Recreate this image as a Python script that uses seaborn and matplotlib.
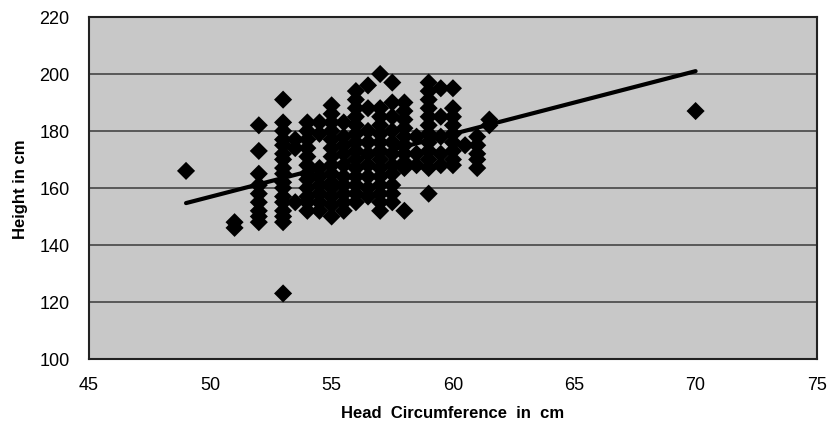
import matplotlib
matplotlib.use("Agg")
import matplotlib.pyplot as plt
import pandas as pd
import seaborn as sns

# head circumference columns (cm) and the heights measured at each one (cm)
head_cols = [49, 51, 52, 53, 53.5, 54, 54.5, 55, 55.5, 56, 56.5, 57, 57.5,
             58, 58.5, 59, 59.5, 60, 60.5, 61, 61.5, 70]
heights = [
    [166],
    [148, 146],
    [182, 173, 165, 161, 158, 155, 152, 150, 148],
    [191, 183, 180, 177, 175, 172, 170, 167, 165, 162, 160, 157, 155, 152, 150, 148, 123],
    [177, 174, 155],
    [183, 180, 177, 174, 171, 168, 165, 163, 160, 157, 155, 152],
    [183, 179, 167, 164, 161, 158, 155, 152],
    [189, 186, 183, 180, 177, 174, 171, 168, 165, 162, 160, 157, 154, 150],
    [183, 178, 175, 172, 168, 164, 161, 158, 155, 152],
    [194, 191, 188, 185, 182, 179, 176, 173, 170, 167, 164, 161, 158, 155],
    [196, 188, 180, 176, 172, 168, 164, 160, 157],
    [200, 188, 185, 182, 179, 176, 173, 170, 167, 164, 161, 158, 155, 152],
    [197, 190, 185, 180, 176, 172, 168, 165, 161, 158, 155],
    [190, 187, 184, 181, 178, 175, 172, 169, 167, 152],
    [178, 172, 168],
    [197, 194, 191, 188, 185, 182, 179, 176, 173, 170, 167, 158],
    [195, 185, 178, 172, 168],
    [195, 188, 185, 182, 179, 176, 173, 170, 168],
    [175],
    [178, 175, 172, 170, 167],
    [184, 182],
    [187],
]

# fitted trend line end points
trend_x = [49, 70]
trend_y = [154.7, 201]

rows = []
for hc, hs in zip(head_cols, heights):
    for h in hs:
        rows.append((hc, h))
df = pd.DataFrame(rows, columns=["head", "height"])

sns.set_style("white")
plt.rcParams["font.family"] = ["Liberation Sans", "DejaVu Sans"]

fig = plt.figure(figsize=(8.37, 4.39), dpi=100)
ax = fig.add_axes([0.1063, 0.18, 0.8697, 0.779])
ax.set_facecolor("#c8c8c8")

sns.scatterplot(data=df, x="head", y="height", marker="D", s=85,
                color="black", edgecolor="none", ax=ax, zorder=3)
sns.lineplot(x=trend_x, y=trend_y, color="black", linewidth=3, ax=ax, zorder=4)

ax.set_xlim(45, 75)
ax.set_ylim(100, 220)
ax.set_xticks(range(45, 80, 5))
ax.set_yticks(range(100, 240, 20))
ax.yaxis.grid(True, color="#3a3a3a", linewidth=1.1)
ax.xaxis.grid(False)
ax.set_axisbelow(True)
for sp in ax.spines.values():
    sp.set_visible(True)
    sp.set_color("#222222")
    sp.set_linewidth(1.5)
ax.tick_params(length=0, labelsize=13, labelcolor="black", pad=14)
ax.tick_params(axis="x", pad=12)

ax.set_xlabel("Head  Circumference  in  cm", fontsize=12, fontweight="bold",
              color="black", labelpad=9)
ax.set_ylabel("Height in cm", fontsize=12, fontweight="heavy", color="black",
              labelpad=8)

fig.savefig("out.png", dpi=100, facecolor="white")
